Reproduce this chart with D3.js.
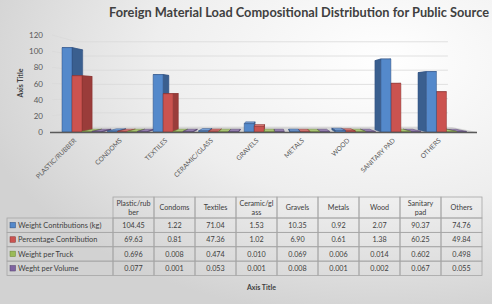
<!DOCTYPE html>
<html>
<head>
<meta charset="utf-8">
<script src="https://cdn.jsdelivr.net/npm/d3@7"></script>
<style>
  body { margin: 0; }
  svg { display: block; font-family: Lato, "Open Sans", sans-serif; }
</style>
</head>
<body>
<svg id="chart" width="492" height="304"></svg>
<script>
// data
const categories = ["PLASTIC/RUBBER", "CONDOMS", "TEXTILES", "CERAMIC/GLASS", "GRAVELS",
                    "METALS", "WOOD", "SANITARY PAD", "OTHERS"];
const tableHeads = [["Plastic/rub", "ber"], ["Condoms"], ["Textiles"], ["Ceramic/gl", "ass"],
                    ["Gravels"], ["Metals"], ["Wood"], ["Sanitary", "pad"], ["Others"]];
const series     = ["Weight Contributions (kg)", "Percentage Contribution",
                    "Weight per Truck", "Weght per Volume"];
const weightKg   = [104.45, 1.22, 71.04, 1.53, 10.35, 0.92, 2.07, 90.37, 74.76];
const percentage = [69.63, 0.81, 47.36, 1.02, 6.90, 0.61, 1.38, 60.25, 49.84];
const perTruck   = [0.696, 0.008, 0.474, 0.010, 0.069, 0.006, 0.014, 0.602, 0.498];
const perVolume  = [0.077, 0.001, 0.053, 0.001, 0.008, 0.001, 0.002, 0.067, 0.055];
const yTicks     = [0, 20, 40, 60, 80, 100, 120];

const seriesValues = [weightKg, percentage, perTruck, perVolume];
const decimals     = [2, 2, 3, 3];

// colours: front, side, top, edge
const palette = [
  { front: "#5489cb", side: "#3a5f8f", top: "#7aa3da", edge: "#2e4f7e" },
  { front: "#cb5350", side: "#9a3c3a", top: "#d97b78", edge: "#86302e" },
  { front: "#9bbb59", side: "#7a9744", top: "#b3cd7c", edge: "#6a843a" },
  { front: "#8064a2", side: "#5f4a7c", top: "#9c86b8", edge: "#52406b" }
];

const svg = d3.select("#chart");
const W = 492, H = 304;

// background
const defs = svg.append("defs");
const grad = defs.append("radialGradient")
  .attr("id", "bg").attr("cx", "78%").attr("cy", "20%").attr("r", "85%");
grad.append("stop").attr("offset", "0%").attr("stop-color", "#ffffff");
grad.append("stop").attr("offset", "55%").attr("stop-color", "#eeeeee");
grad.append("stop").attr("offset", "100%").attr("stop-color", "#d2d2d2");
svg.append("rect").attr("width", W).attr("height", H).attr("fill", "url(#bg)");

// title
svg.append("text")
  .attr("x", 299).attr("y", 17)
  .attr("text-anchor", "middle")
  .attr("textLength", 380).attr("lengthAdjust", "spacingAndGlyphs")
  .style("font-size", "12.5px").style("font-weight", "bold")
  .style("fill", "#404040")
  .text("Foreign Material Load Compositional Distribution for Public Source");

// scales
const y = d3.scaleLinear().domain([0, 120]).range([132, 35]);
const x = d3.scaleBand().domain(categories).range([57, 467]);
const xs = d3.scaleBand().domain(series).range([5, 45]);

// perspective
const VX = 270, VY = 91;
const T_WALL = 0.121, T_BAR = 0.054;
const back = (p, t) => [p[0] + t * (VX - p[0]), p[1] + t * (VY - p[1])];
const pts = arr => arr.map(p => p.join(",")).join(" ");

const plotL = 50, plotR = 477;

// floor
const fl = [[plotL, y(0)], [plotR, y(0)], back([plotR, y(0)], T_WALL), back([plotL, y(0)], T_WALL)];
svg.append("polygon").attr("points", pts(fl)).attr("fill", "#d6d6d6");

// gridlines (side wall + back wall)
const grid = svg.append("g").style("stroke", "#d9d9d9").style("stroke-width", 0.8).style("fill", "none");
yTicks.forEach(v => {
  const a = [plotL + 2, y(v)], b = back([plotL, y(v)], T_WALL), c = back([plotR, y(v)], T_WALL);
  grid.append("polyline").attr("points", pts([a, b, [c[0] - 4, c[1]]]));
});

// y tick labels
svg.append("g").selectAll("text")
  .data(yTicks)
  .join("text")
    .attr("x", 43).attr("y", d => y(d) + 3)
    .attr("text-anchor", "end")
    .style("font-size", "8px").style("fill", "#595959")
    .text(d => d);

// y axis title
svg.append("text")
  .attr("transform", "translate(23,83) rotate(-90)")
  .attr("text-anchor", "middle")
  .style("font-size", "7px").style("font-weight", "bold").style("fill", "#404040")
  .text("Axis Title");

// bars
const bars = [];
categories.forEach((c, ci) => {
  series.forEach((s, si) => {
    const x0 = x(c) + xs(s), x1 = x0 + xs.bandwidth();
    bars.push({ x0, x1, si, v: seriesValues[si][ci] });
  });
});
bars.sort((a, b) => Math.abs((b.x0 + b.x1) / 2 - VX) - Math.abs((a.x0 + a.x1) / 2 - VX));

const barG = svg.append("g").style("stroke-width", 0.5).style("stroke-linejoin", "round");
bars.forEach(b => {
  const col = palette[b.si];
  const yt = Math.min(y(b.v), y(0) - 0.6), yb = y(0);
  const fTL = [b.x0, yt], fTR = [b.x1, yt], fBL = [b.x0, yb], fBR = [b.x1, yb];
  // top face
  barG.append("polygon")
    .attr("points", pts([fTL, fTR, back(fTR, T_BAR), back(fTL, T_BAR)]))
    .attr("fill", col.top).attr("stroke", col.edge);
  // side face, toward vanishing point
  const sideTop = b.x1 < VX ? fTR : fTL, sideBot = b.x1 < VX ? fBR : fBL;
  barG.append("polygon")
    .attr("points", pts([sideTop, back(sideTop, T_BAR), back(sideBot, T_BAR), sideBot]))
    .attr("fill", col.side).attr("stroke", col.edge);
  // front face
  barG.append("polygon")
    .attr("points", pts([fTL, fTR, fBR, fBL]))
    .attr("fill", col.front).attr("stroke", col.edge);
});

// floor front edge
svg.append("line")
  .attr("x1", plotL).attr("x2", plotR).attr("y1", y(0) + 0.5).attr("y2", y(0) + 0.5)
  .style("stroke", "#5a5a5a").style("stroke-width", 1.6);

// category labels
svg.append("g").selectAll("text")
  .data(categories)
  .join("text")
    .attr("transform", d => `translate(${x(d) + x.bandwidth() / 2 - 3},141) rotate(-45)`)
    .attr("text-anchor", "end")
    .style("font-size", "6.6px").style("fill", "#595959")
    .text(d => d);

// data table
const col = d3.scaleBand().domain(d3.range(categories.length)).range([113, 482]);
const row = d3.scaleBand().domain(d3.range(series.length)).range([218, 275.5]);
const headTop = 197, labelL = 7;
const tbl = svg.append("g");
const lineStyle = sel => sel.style("stroke", "#a6a6a6").style("stroke-width", 0.8).style("fill", "none");

// header cells
tableHeads.forEach((h, i) => {
  tbl.append("rect").attr("x", col(i)).attr("y", headTop)
    .attr("width", col.bandwidth()).attr("height", row.range()[0] - headTop).call(lineStyle);
  const cy = (headTop + row.range()[0]) / 2;
  h.forEach((line, li) => {
    tbl.append("text")
      .attr("x", col(i) + col.bandwidth() / 2)
      .attr("y", cy + 2.5 + (li - (h.length - 1) / 2) * 9)
      .attr("text-anchor", "middle")
      .style("font-size", "7.2px").style("fill", "#404040")
      .text(line);
  });
});

// body rows
series.forEach((s, si) => {
  tbl.append("rect").attr("x", labelL).attr("y", row(si))
    .attr("width", col.range()[0] - labelL).attr("height", row.bandwidth()).call(lineStyle);
  tbl.append("rect").attr("x", labelL + 3).attr("y", row(si) + row.bandwidth() / 2 - 2.8)
    .attr("width", 5.5).attr("height", 5.5)
    .attr("fill", palette[si].front).attr("stroke", palette[si].edge).attr("stroke-width", 0.5);
  tbl.append("text")
    .attr("x", labelL + 11).attr("y", row(si) + row.bandwidth() / 2 + 2.6)
    .style("font-size", "7.4px").style("fill", "#404040")
    .text(s);
  seriesValues[si].forEach((v, ci) => {
    tbl.append("rect").attr("x", col(ci)).attr("y", row(si))
      .attr("width", col.bandwidth()).attr("height", row.bandwidth()).call(lineStyle);
    tbl.append("text")
      .attr("x", col(ci) + col.bandwidth() / 2).attr("y", row(si) + row.bandwidth() / 2 + 2.6)
      .attr("text-anchor", "middle")
      .style("font-size", "7.2px").style("fill", "#404040")
      .text(v.toFixed(decimals[si]));
  });
});

// x axis title
svg.append("text")
  .attr("x", 247).attr("y", 290)
  .style("font-size", "7px").style("font-weight", "bold").style("fill", "#404040")
  .text("Axis Title");
</script>
</body>
</html>
